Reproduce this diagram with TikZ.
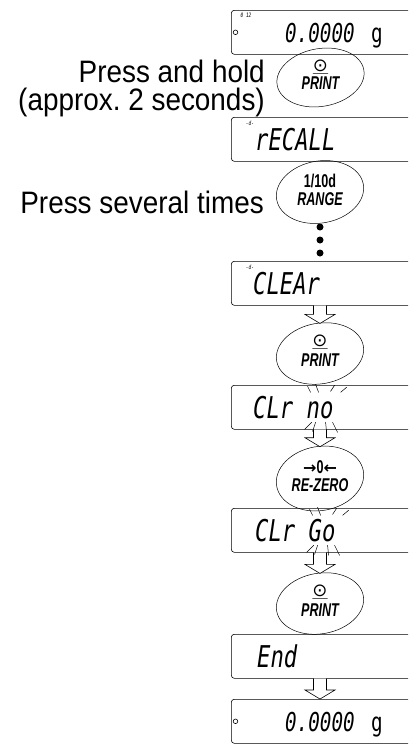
\documentclass[tikz,border=0pt]{standalone}
\usepackage{fontspec}
\setmainfont{Liberation Sans}
\newfontfamily\notefont[FakeStretch=0.9]{Liberation Sans}
\newfontfamily\keyfont[FakeStretch=0.68]{Liberation Sans}
\newfontfamily\segfont[FakeStretch=0.74]{DejaVu Sans Mono}
\newfontfamily\symfont{DejaVu Sans}
\usetikzlibrary{shapes.geometric,calc}
\frenchspacing

% key faces
\newcommand{\keyface}[3]{\rotatebox{-10}{\begin{tabular}{@{}c@{}}#2\\[#1]\bfseries\itshape #3\end{tabular}}}
\newcommand{\printface}[1][2pt]{\keyface{#1}{{\symfont\fontsize{18}{18}\selectfont\underline{⊙}}}{PRINT}}
\newcommand{\rangeface}{\keyface{0pt}{\bfseries 1/10d}{RANGE}}
\newcommand{\rezeroface}{\keyface{0pt}{{\symfont\bfseries\fontsize{16}{16}\selectfont →}{\bfseries 0}{\symfont\bfseries\fontsize{16}{16}\selectfont ←}}{RE-ZERO}}

% hollow arrow from a display down to the next item
\newcommand{\hollowarrow}[2]{%
  \coordinate (a0) at (axis |- #1.south);
  \coordinate (tip) at (axis |- #2.north);
  \coordinate (hb) at ($(tip)+(0,-9)$);
  \draw[hollow] ($(a0)+(-6.5,0)$) -- ($(hb)+(-6.5,0)$) -- ($(hb)+(-15,0)$) -- (tip)
    -- ($(hb)+(15,0)$) -- ($(hb)+(6.5,0)$) -- ($(a0)+(6.5,0)$);}

% blinking marks round a word
\newcommand{\blinkrays}[1]{%
  \foreach \ax/\ay/\bx/\by in {-13/-21/-10/-15,-5/-23/-2/-15,10/-16/14/-22,20/-15/26/-20,
      -16/22/-9/15,-8/24/-5/15,5/15/6/25,12/15/17/25}
    \draw[ray] ([shift={(\ax,\ay)}]#1) -- ([shift={(\bx,\by)}]#1);}

\begin{document}
\begin{tikzpicture}[x=1pt,y=-1pt,line cap=round,
  disp/.style={draw,rounded corners=3pt,minimum width=190pt,minimum height=44pt,
    anchor=north west,inner sep=0pt,line width=0.6pt},
  key/.style={draw,ellipse,rotate=10,minimum width=88pt,minimum height=59pt,inner sep=0pt,
    line width=0.5pt,font=\keyfont\fontsize{18.5}{17}\selectfont},
  seg/.style={inner sep=0pt,anchor=west,font=\segfont\itshape\fontsize{30}{30}\selectfont},
  digits/.style={inner sep=0pt,anchor=west,font=\segfont\itshape\fontsize{26}{26}\selectfont},
  note/.style={inner sep=0pt,align=right,font=\notefont\fontsize{31}{28}\selectfont},
  tiny/.style={inner sep=0pt,font=\segfont\itshape\fontsize{6}{6}\selectfont},
  hollow/.style={line width=0.6pt,line join=miter,fill=white},
  ray/.style={line width=0.5pt}]
\clip (0,0) rectangle (408,745);
\coordinate (axis) at (320,0);

% displays
\node[disp] (zero1) at (231,10) {};
\node[disp] (recall) at (231,117) {};
\node[disp] (clear) at (231,261) {};
\node[disp] (clrno) at (231,385) {};
\node[disp] (clrgo) at (231,508) {};
\node[disp] (endd) at (231,634) {};
\node[disp] (zero2) at (231,699) {};

% display readings
\node[digits] (w1) at ($(zero1.west)+(54,1)$) {0.0000};
\node[inner sep=0pt,anchor=base west,font=\segfont\fontsize{26}{26}\selectfont] (g1) at ($(w1.base east)+(16,0)$) {g};
\draw[line width=0.6pt] ($(zero1.west)+(4.5,0)$) circle (2.3pt);
\node[tiny] at ($(zero1.north west)+(15,5)$) {0 12};
\node[seg] (t2) at ($(recall.west)+(24,0)$) {rECALL};
\node[tiny] at ($(recall.north west)+(19,6)$) {-d-};
\node[seg] (t3) at ($(clear.west)+(22,0)$) {CLEAr};
\node[tiny] at ($(clear.north west)+(19,6)$) {-d-};
\node[seg] (t4) at ($(clrno.west)+(22,0)$) {CLr no};
\node[seg] (t5) at ($(clrgo.west)+(24,0)$) {CLr Go};
\node[seg] (t6) at ($(endd.west)+(26,0)$) {End};
\node[digits] (w2) at ($(zero2.west)+(54,1)$) {0.0000};
\node[inner sep=0pt,anchor=base west,font=\segfont\fontsize{26}{26}\selectfont] (g2) at ($(w2.base east)+(16,0)$) {g};
\draw[line width=0.6pt] ($(zero2.west)+(4.5,0)$) circle (2.3pt);

% keys
\node[key,minimum height=45pt] (print1) at (320.5,77.5) {\printface[0pt]};
\node[key] (range) at (320,192) {\rangeface};
\node[key] (print2) at (320,353.5) {\printface};
\node[key,minimum height=61pt] (rezero) at (320,478.5) {\rezeroface};
\node[key,minimum height=57pt] (print3) at (320,603.5) {\printface};

% notes
\node[note,anchor=north east] (hold) at (265,59.5) {Press and hold\\(approx. 2 seconds)};
\node[note,anchor=base east] (several) at (264,213) {Press several times};

% repeated presses
\foreach \y in {227,240,253}
  \fill (320,\y) circle (3.5pt);

% arrows
\hollowarrow{clear}{print2}
\hollowarrow{clrno}{rezero}
\hollowarrow{clrgo}{print3}
\hollowarrow{endd}{zero2}

% blinking
\coordinate (bno) at ($(t4.east)+(-13,0)$);
\coordinate (bgo) at ($(t5.east)+(-13,0)$);
\blinkrays{bno}
\blinkrays{bgo}
\end{tikzpicture}
\end{document}
